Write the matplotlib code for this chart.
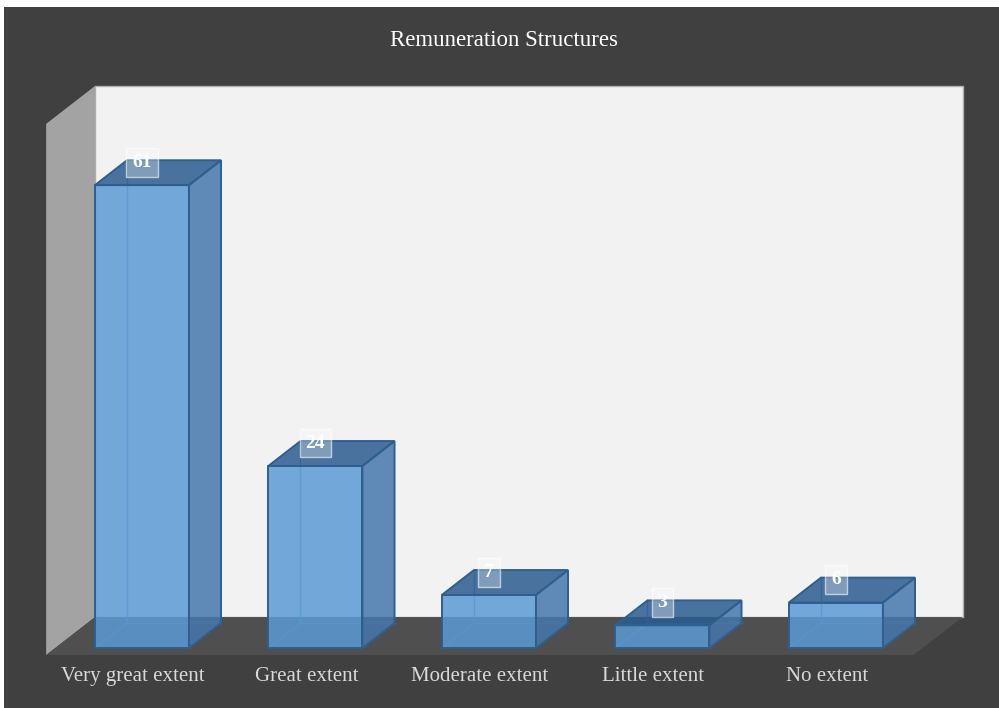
import matplotlib
matplotlib.use("Agg")
import matplotlib.pyplot as plt
from matplotlib.patches import Polygon, Rectangle

categories = ["Very great extent", "Great extent", "Moderate extent", "Little extent", "No extent"]
values = [61, 24, 7, 3, 6]
title = "Remuneration Structures"
axis_max = 70

W, H = 999, 708
fig = plt.figure(figsize=(W / 100, H / 100), dpi=100)
fig.patch.set_facecolor("white")
fig.add_artist(Rectangle((4 / W, 0), 1 - 4 / W, 1 - 7 / H, transform=fig.transFigure,
                         facecolor="#404040", edgecolor="none", zorder=0))

ax = fig.add_axes([0, 0, 1, 1])
ax.set_xlim(-0.818, 4.94)
ax.set_ylim(-7.9, 85.4)
ax.axis("off")
ax.patch.set_alpha(0)

SERIF = ["Liberation Serif", "DejaVu Serif"]

DX, DY = 0.2824, 5.007   # oblique depth vector (full depth)
Z0, Z1 = 0.184, 0.839    # bar front/back depth
X0, X1 = -0.5, len(categories) - 0.5
BW = 0.542


def P(x, y, z):
    return (x + (z - Z0) * DX, y + (z - Z0) * DY)


def poly(pts, **kw):
    ax.add_patch(Polygon(pts, closed=True, **kw))


# walls & floor
poly([P(X0, 0, 1), P(X1, 0, 1), P(X1, axis_max, 1), P(X0, axis_max, 1)],
     facecolor="#f2f2f2", edgecolor="#b0b0b0", lw=1.0, zorder=1)
poly([P(X0, 0, 0), P(X0, 0, 1), P(X0, axis_max, 1), P(X0, axis_max, 0)],
     facecolor="#a3a3a3", edgecolor="none", zorder=1)
poly([P(X0, 0, 0), P(X1, 0, 0), P(X1, 0, 1), P(X0, 0, 1)],
     facecolor="#504f4f", edgecolor="none", zorder=1)

EDGE = "#2f5f8f"
for i, v in enumerate(values):
    xl, xr = i - BW / 2, i + BW / 2
    # hidden edges seen through transparency
    for a, b in [((xl, 0, Z1), (xl, v, Z1)), ((xl, 0, Z0), (xl, 0, Z1)), ((xl, 0, Z1), (xr, 0, Z1))]:
        pa, pb = P(*a), P(*b)
        ax.plot([pa[0], pb[0]], [pa[1], pb[1]], color="#3d7fc0", lw=1.0, alpha=0.7, zorder=2)
    poly([P(xl, 0, Z0), P(xr, 0, Z0), P(xr, v, Z0), P(xl, v, Z0)],
         facecolor=(0.357, 0.608, 0.835, 0.85), edgecolor=EDGE, lw=1.4, zorder=3)
    poly([P(xr, 0, Z0), P(xr, 0, Z1), P(xr, v, Z1), P(xr, v, Z0)],
         facecolor=(0.27, 0.47, 0.68, 0.85), edgecolor=EDGE, lw=1.4, zorder=3)
    poly([P(xl, v, Z0), P(xr, v, Z0), P(xr, v, Z1), P(xl, v, Z1)],
         facecolor=(0.17, 0.36, 0.57, 0.85), edgecolor=EDGE, lw=1.4, zorder=3)
    ax.text(i, v + 3.0, str(v), ha="center", va="center", color="white",
            fontweight="bold", family=SERIF, fontsize=14, zorder=5,
            bbox=dict(boxstyle="square,pad=0.3", fc=(1, 1, 1, 0.3), ec=(1, 1, 1, 0.6), lw=1))
    ax.text(i - Z0 * DX, -3.8, categories[i], ha="center", va="center",
            color="#d9d9d9", family=SERIF, fontsize=15, zorder=5)

fig.text(0.505, 1 - 40 / H, title, ha="center", va="center", color="white",
         family=SERIF, fontsize=16.5)

fig.savefig("out.png", dpi=100, facecolor=fig.get_facecolor())
